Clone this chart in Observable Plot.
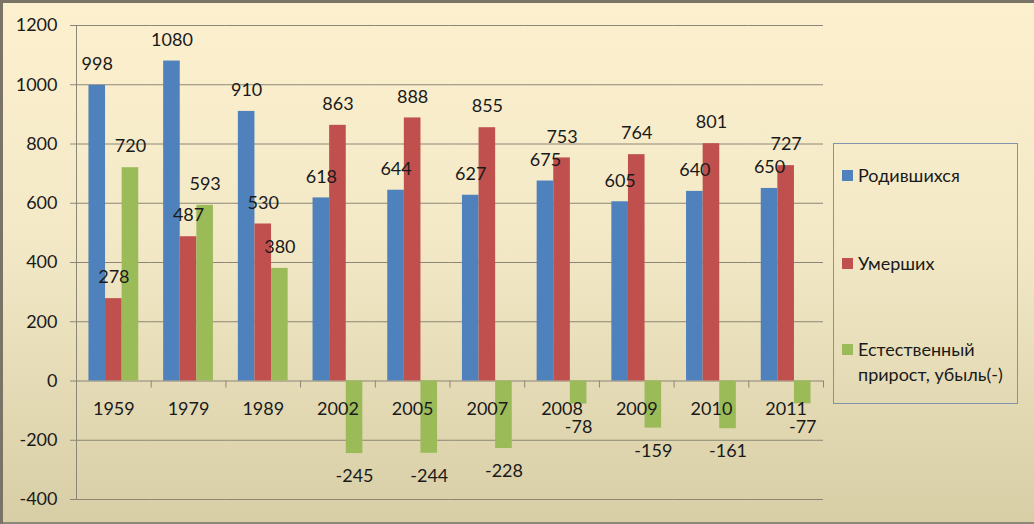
<!DOCTYPE html>
<html>
<head>
<meta charset="utf-8">
<script src="https://cdn.jsdelivr.net/npm/d3@7"></script>
<script src="https://cdn.jsdelivr.net/npm/@observablehq/plot@0.6"></script>
<style>
  html, body { margin: 0; padding: 0; }
  #wrap {
    position: relative; width: 1034px; height: 524px; overflow: hidden;
    background: linear-gradient(to bottom, #fdf0cf 0%, #f3e9c7 45%, #d7cea6 100%);
    box-shadow: inset 3px 3px 0 #7a7466, inset 0 -2px 0 #8d887a;
    font-family: Lato, "Open Sans", sans-serif;
  }
  #chart { position: absolute; left: 0; top: 0; }
  #legend {
    position: absolute; left: 833px; top: 143px; width: 185px; height: 261px;
    border: 1px solid #7f93aa; box-sizing: border-box;
  }
  .item { position: absolute; left: 8px; display: flex; align-items: flex-start;
    font-size: 18px; line-height: 25px; color: #1a1a1a; }
  .sw { width: 11px; height: 11px; margin-top: 7px; margin-right: 5px; flex: none; }
</style>
</head>
<body>
<div id="wrap">
  <div id="chart"></div>
  <div id="legend"></div>
</div>
<script>
const years = ["1959","1979","1989","2002","2005","2007","2008","2009","2010","2011"];
const born = [998,1080,910,618,644,627,675,605,640,650];
const died = [278,487,530,863,888,855,753,764,801,727];
const natural = [720,593,380,-245,-244,-228,-78,-159,-161,-77];
const seriesNames = ["Родившихся","Умерших","Естественный прирост, убыль(-)"];
const legendLines = [["Родившихся"],["Умерших"],["Естественный","прирост, убыль(-)"]];
const colors = ["#4f81bd","#c0504d","#9bbb59"];
const yTicks = [-400,-200,0,200,400,600,800,1000,1200];

const seriesValues = [born, died, natural];
const data = years.flatMap((year, i) =>
  seriesNames.map((s, j) => ({year, series: s, value: seriesValues[j][i]})));

const gridColor = "#8b8677";
const textColor = "#1a1a1a";

const plot = Plot.plot({
  width: 1034, height: 524,
  marginLeft: 76, marginRight: 211, marginTop: 25, marginBottom: 25,
  style: {background: "transparent", fontFamily: "Lato, 'Open Sans', sans-serif", fontSize: "18px", color: textColor},
  fx: {domain: years, padding: 0, round: false, axis: null, label: null},
  x: {domain: seriesNames, paddingInner: 0, paddingOuter: 0.75, round: false, axis: null, label: null},
  y: {domain: [-400, 1200], axis: null, label: null},
  color: {domain: seriesNames, range: colors},
  marks: [
    Plot.ruleY(yTicks, {y: d => d, stroke: gridColor, strokeWidth: 1, strokeOpacity: 1}),
    Plot.axisY({ticks: yTicks, tickSize: 6, tickPadding: 13, stroke: gridColor, strokeOpacity: 1,
      fill: textColor, tickFormat: d => String(d), label: null, fontSize: 18}),
    // value axis line
    Plot.ruleX([years[0]], {fx: d => d, x: () => seriesNames[0], dx: -20.75, y1: -400, y2: 1200, stroke: gridColor}),
    // category boundary ticks
    Plot.ruleX(years, {fx: d => d, x: () => seriesNames[0], dx: -20.75, y1: 0, y2: -24, stroke: gridColor}),
    Plot.ruleX([years[years.length - 1]], {fx: d => d, x: () => seriesNames[2], dx: 20.75, y1: 0, y2: -24, stroke: gridColor}),
    Plot.barY(data, {fx: "year", x: "series", y: "value", fill: "series"}),
    Plot.text(years, {fx: d => d, text: d => d, y: () => 0, dy: 28, fill: textColor, fontSize: 18}),
    Plot.text(data.filter(d => d.value >= 0), {fx: "year", x: "series", y: "value", text: d => String(d.value), dy: -21, fill: textColor, fontSize: 18}),
    Plot.text(data.filter(d => d.value < 0), {fx: "year", x: "series", y: "value", text: d => String(d.value), dy: 23, fill: textColor, fontSize: 18})
  ]
});
document.getElementById("chart").appendChild(plot);

const legend = document.getElementById("legend");
const itemTops = [19, 107, 193];
seriesNames.forEach((s, j) => {
  const it = document.createElement("div");
  it.className = "item";
  it.style.top = itemTops[j] + "px";
  const sw = document.createElement("div");
  sw.className = "sw";
  sw.style.background = colors[j];
  const tx = document.createElement("div");
  tx.innerHTML = legendLines[j].join("<br>");
  it.appendChild(sw); it.appendChild(tx);
  legend.appendChild(it);
});
</script>
</body>
</html>
